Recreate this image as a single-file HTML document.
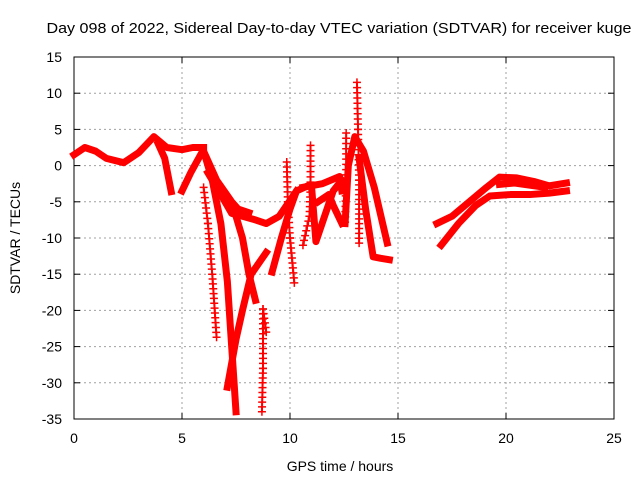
<!DOCTYPE html>
<html><head><meta charset="utf-8"><style>
body{margin:0;background:#fff;}
svg text{font-family:"Liberation Sans",sans-serif;fill:#000;}
</style></head><body>
<svg id="c" width="640" height="480" xmlns="http://www.w3.org/2000/svg">
<text x="339" y="33" font-size="15" text-anchor="middle" textLength="585" lengthAdjust="spacingAndGlyphs">Day 098 of 2022, Sidereal Day-to-day VTEC variation (SDTVAR) for receiver kuge</text>
<text x="340" y="471" font-size="14" text-anchor="middle">GPS time / hours</text>
<text x="20" y="238" font-size="14" text-anchor="middle" transform="rotate(-90 20 238)">SDTVAR / TECUs</text>
<g id="grid"></g><g id="axes"></g><g id="marks"></g>
</svg>
<script>
const xTicks=[0,5,10,15,20,25];
const yTicks=[15,10,5,0,-5,-10,-15,-20,-25,-30,-35];
// thick (dense) traces: [hour, TECU]
const traceA=[[0,1.5],[0.5,2.5],[1,2],[1.5,1],[2.3,0.4],[3,1.8],[3.7,4],[4.3,2.5],[5,2.2],[5.5,2.5],[6,2.5]];
const traceA2=[[3.9,3],[4.2,1],[4.5,-3.6]];
const traceA3=[[5,-3.5],[5.4,-1],[5.9,1.7]];
const traceB2=[[6.1,1],[6.4,-2],[6.8,-8],[7.1,-16],[7.3,-25],[7.5,-34]];
const traceB3=[[6.2,-1],[6.7,-3.5],[7.3,-6.6],[7.8,-7],[8.4,-7.5],[8.9,-8],[9.5,-7],[10.3,-3.5]];
const traceB3b=[[6.0,2],[6.6,-2],[7.3,-5],[7.6,-6],[8.1,-6.5]];
const traceB4=[[7.4,-6],[7.8,-10],[8.1,-15],[8.4,-18.6]];
const traceB5=[[7.1,-30.6],[7.5,-24],[7.8,-20],[8.2,-15],[8.9,-12]];
const traceB7=[[9.17,-14.7],[9.6,-10],[10,-6],[10.3,-3.5],[10.9,-2.7]];
const traceC=[[10.6,-3],[11.5,-2.5],[12.3,-1.5],[12.4,-3.5]];
const traceD=[[11,-3],[11.2,-10.5],[11.6,-7],[12,-3.5],[12.4,-2]];
const traceE=[[11.3,-5],[11.8,-4],[12,-5.5],[12.4,-8]];
const traceF=[[12.55,-8],[12.7,0],[13,4],[13.4,2],[13.9,-3],[14.5,-10.7]];
const traceF2=[[13.2,1],[13.5,-6],[13.85,-12.6],[14.2,-12.8],[14.6,-13]];
const traceG=[[16.8,-8],[17.5,-7],[18.3,-5],[19.1,-3],[19.7,-1.6],[20.5,-1.7],[21.3,-2.2],[22,-2.8],[22.8,-2.4]];
const traceG2=[[17,-11],[17.8,-8],[18.6,-5.5],[19.25,-4.2],[20.2,-4],[21.1,-4],[22,-3.8],[22.8,-3.5]];
const traceG3=[[19.7,-2.6],[20.4,-2.4],[21.1,-2.7],[21.8,-3]];
// sparse spike traces
const spikeB1=[[6,-3],[6.2,-8],[6.4,-15],[6.6,-23.7]];
const spikeB6=[[8.7,-34],[8.75,-28],[8.75,-19.8],[8.9,-23]];
const spike1=[[9.85,0.5],[9.9,-5],[10,-10],[10.2,-16.2]];
const spike2=[[10.95,2.8],[10.95,-3],[10.9,-7],[10.6,-11]];
const spike3=[[13.1,11.5],[13.15,5],[13.2,-2],[13.2,-10.7]];
const spike4=[[12.6,4.5],[12.6,-2],[12.55,-7.8]];
const thick=[traceA,traceA2,traceA3,traceB2,traceB3,traceB3b,traceB4,traceB5,traceB7,traceC,traceD,traceE,traceF,traceF2,traceG,traceG2,traceG3];
const thin=[spikeB1,spikeB6,spike1,spike2,spike3,spike4];

const X0=74,X1=614,Y0=57,Y1=419;
const sx=t=>X0+(t-0)/25*(X1-X0);
const sy=v=>Y0+(15-v)/50*(Y1-Y0);
const NS="http://www.w3.org/2000/svg";
function mk(tag,attrs,parent){const e=document.createElementNS(NS,tag);for(const k in attrs)e.setAttribute(k,attrs[k]);parent.appendChild(e);return e;}
const grid=document.getElementById('grid'),axes=document.getElementById('axes'),marks=document.getElementById('marks');
xTicks.forEach(t=>{
  if(t>0&&t<25){const g=mk('line',{x1:sx(t),x2:sx(t),y1:Y0,y2:Y1,stroke:'#a0a0a0','stroke-dasharray':'2,3'},grid);
  
  }
  const l=mk('text',{x:sx(t),y:Y1+24,'font-size':14,'text-anchor':'middle'},axes);l.textContent=t;
  
  
  mk('line',{x1:sx(t),x2:sx(t),y1:Y1,y2:Y1-6,stroke:'#000'},axes);
  mk('line',{x1:sx(t),x2:sx(t),y1:Y0,y2:Y0+6,stroke:'#000'},axes);
});
yTicks.forEach(v=>{
  if(v<15&&v>-35){const g=mk('line',{x1:X0,x2:X1,y1:sy(v),y2:sy(v),stroke:'#a0a0a0','stroke-dasharray':'2,3'},grid);
  
  }
  const l=mk('text',{x:X0-12,y:sy(v)+5,'font-size':14,'text-anchor':'end'},axes);l.textContent=v;
  
  
  mk('line',{x1:X0,x2:X0+6,y1:sy(v),y2:sy(v),stroke:'#000'},axes);
  mk('line',{x1:X1,x2:X1-6,y1:sy(v),y2:sy(v),stroke:'#000'},axes);
});
const frame=mk('rect',{x:X0,y:Y0,width:X1-X0,height:Y1-Y0,fill:'none',stroke:'#000'},axes);


function pts(tr){return tr.map(p=>sx(p[0])+','+sy(p[1])).join(' ');}
thick.forEach(tr=>{
  const p=mk('polyline',{points:pts(tr),fill:'none',stroke:'#f00','stroke-width':7,'stroke-linejoin':'round','stroke-linecap':'square'},marks);
  
  
});
thin.forEach(tr=>{
  const p=mk('polyline',{points:pts(tr),fill:'none',stroke:'#f00','stroke-width':2},marks);
  
  
  for(let i=0;i<tr.length-1;i++){
    const a=tr[i],b=tr[i+1];
    const n=Math.max(1,Math.round(Math.abs(sy(b[1])-sy(a[1]))/5));
    for(let k=0;k<=n;k++){
      const x=sx(a[0])+(sx(b[0])-sx(a[0]))*k/n,y=sy(a[1])+(sy(b[1])-sy(a[1]))*k/n;
      const m=mk('path',{d:`M${x-4},${y}H${x+4}M${x},${y-4}V${y+4}`,stroke:'#f00','stroke-width':1.5},marks);
      
      
    }
  }
});
</script>
</body></html>
